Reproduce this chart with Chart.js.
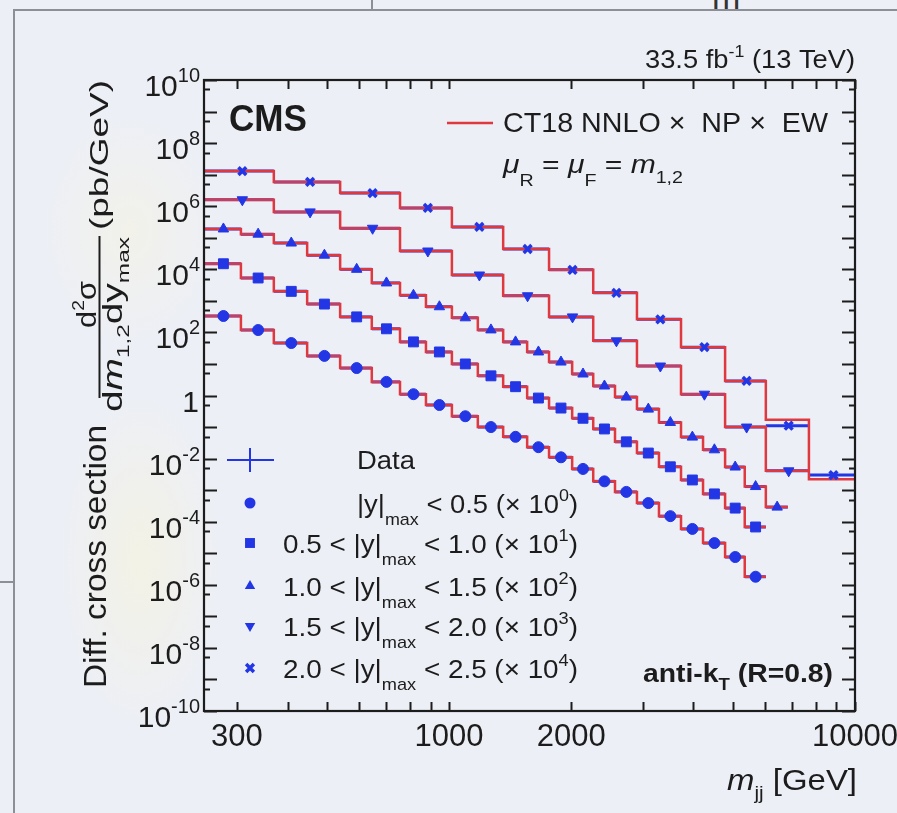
<!DOCTYPE html>
<html>
<head>
<meta charset="utf-8">
<script src="https://cdn.jsdelivr.net/npm/chart.js@4.4.1/dist/chart.umd.min.js"></script>
<style>
  html, body { margin: 0; padding: 0; }
  body {
    width: 897px; height: 813px; overflow: hidden; position: relative;
    background:
      radial-gradient(ellipse 110px 230px at 140px 560px, rgba(248,244,218,0.6), rgba(248,244,218,0) 75%),
      radial-gradient(ellipse 120px 160px at 130px 230px, rgba(248,244,222,0.5), rgba(248,244,222,0) 75%),
      #eceff6;
    font-family: "Liberation Sans", Arial, Helvetica, sans-serif;
  }
  .rule { position: absolute; background: #8c8f96; }
  #cut { position: absolute; left: 712px; top: -20px; font-size: 34px; line-height: 34px; color: #333; }
  #wrap { position: absolute; left: 0; top: 0; width: 897px; height: 813px; }
</style>
</head>
<body>
<div id="cut">m</div>
<div class="rule" style="left:13px; top:9px; width:884px; height:2px"></div>
<div class="rule" style="left:13px; top:9px; width:2px; height:804px"></div>
<div class="rule" style="left:371px; top:0; width:2px; height:10px"></div>
<div class="rule" style="left:0; top:581px; width:14px; height:2px"></div>
<div id="wrap"><canvas id="xsec"></canvas></div>
<script>
// m_1,2 bin edges (GeV): fine binning for |y|max < 1.5, merged bins above
const edgesFine = [249, 307, 370, 447, 539, 645, 757, 877, 1016, 1177, 1359, 1557, 1763,
  2010, 2265, 2563, 2903, 3289, 3727, 4223, 4786, 5350, 6030, 6830];
const edgesWide = [249, 370, 539, 757, 1016, 1359, 1763, 2265, 2903, 3727, 4786, 6030, 7700, 10000];

// measured cross sections (pb/GeV), already multiplied by the plotting factor
const xsY0 = [331, 119, 46, 18, 7.4, 2.7, 1.1, 0.50, 0.22, 0.10, 0.049, 0.023, 0.011,
  0.0047, 0.0019, 8.8e-4, 3.9e-4, 1.5e-4, 5.9e-5, 2.1e-5, 7.6e-6, 1.8e-6];
const xsY1 = [1.5e4, 5.3e3, 2.0e3, 790, 310, 130, 50, 24, 10, 4.2, 1.9, 0.83, 0.40,
  0.19, 0.087, 0.034, 0.015, 0.0055, 0.0021, 7.6e-4, 2.7e-4, 6.8e-5];
const xsY2 = [1.9e5, 1.3e5, 6.8e4, 2.8e4, 1.0e4, 3.7e3, 1.5e3, 650, 290, 120, 50, 24,
  11.5, 4.8, 2.0, 0.89, 0.37, 0.14, 0.048, 0.019, 0.0054, 0.0013, 2.9e-4];
const xsY3 = [1.6e6, 6.6e5, 2.0e5, 3.8e4, 6.6e3, 1450, 310, 54, 8.6, 1.1, 0.10, 0.0041];
const xsY4 = [1.3e7, 5.9e6, 2.6e6, 8.8e5, 2.2e5, 4.4e4, 9.6e3, 1.8e3, 260, 34, 2.9, 0.11, 0.0030];

// CT18 NNLO x NP x EW prediction (same scale factors)
const thyY0 = xsY0;
const thyY1 = xsY1;
const thyY2 = xsY2;
const thyY3 = xsY3;
const thyY4 = [1.3e7, 5.9e6, 2.6e6, 8.8e5, 2.2e5, 4.4e4, 9.6e3, 1.8e3, 260, 34, 2.9, 0.17, 0.0022];

const xTickLabels = [300, 1000, 2000, 10000];
const xMinorTicks = [300, 400, 500, 600, 700, 800, 900, 1000, 2000, 3000, 4000, 5000,
  6000, 7000, 8000, 9000, 10000];
const yLabelExps = [10, 8, 6, 4, 2, 0, -2, -4, -6, -8, -10];

const rapLabels = [
  ['', '0.5', '0'],
  ['0.5 < ', '1.0', '1'],
  ['1.0 < ', '1.5', '2'],
  ['1.5 < ', '2.0', '3'],
  ['2.0 < ', '2.5', '4'],
];

const RED = '#e0383f';
const BLUE = '#2236e6';
const INK = '#1c1c1c';
const FAM = '"Liberation Sans", Arial, Helvetica, sans-serif';
const f = (px, style) => (style ? style + ' ' : '') + px + 'px ' + FAM;

const series = [
  { xs: xsY0, thy: thyY0, edges: edgesFine, style: 'circle', r: 5.5 },
  { xs: xsY1, thy: thyY1, edges: edgesFine, style: 'rect', r: 7 },
  { xs: xsY2, thy: thyY2, edges: edgesFine, style: 'triangle', r: 6 },
  { xs: xsY3, thy: thyY3, edges: edgesWide, style: 'triangle', r: 6, rot: 180 },
  { xs: xsY4, thy: thyY4, edges: edgesWide, style: 'crossRot', r: 5.5 },
];

const datasets = [];
series.forEach(s => {
  const n = s.thy.length;
  // histogram: one point per lower edge, plus the closing upper edge
  datasets.push({
    data: s.edges.slice(0, n + 1).map((e, i) => ({ x: e, y: s.thy[Math.min(i, n - 1)] })),
    stepped: 'before',
    borderColor: RED,
    borderWidth: 2.5,
    pointRadius: 0,
    order: 2,
  });
  datasets.push({
    data: s.xs.map((v, i) => ({ x: (s.edges[i] + s.edges[i + 1]) / 2, y: v })),
    edges: s.edges,
    showLine: false,
    pointStyle: s.style,
    pointRadius: s.r,
    pointRotation: s.rot || 0,
    pointBackgroundColor: BLUE,
    pointBorderColor: BLUE,
    pointBorderWidth: s.style === 'crossRot' ? 3.5 : 1,
    order: 1,
  });
});

// text made of runs (sub/superscripts), optionally rotated and stretched to a length
function runs(ctx, parts, x, y, o) {
  o = o || {};
  let w = 0;
  parts.forEach(p => { ctx.font = p.f; p.w = ctx.measureText(p.t).width; w += p.w; });
  const s = o.fit ? o.fit / w : 1;
  ctx.save();
  ctx.translate(x, y);
  if (o.rot) ctx.rotate(o.rot);
  ctx.scale(s, 1);
  let cx = o.align === 'right' ? -w : o.align === 'center' ? -w / 2 : 0;
  ctx.fillStyle = o.color || INK;
  ctx.textAlign = 'left';
  ctx.textBaseline = 'alphabetic';
  parts.forEach(p => { ctx.font = p.f; ctx.fillText(p.t, cx, p.dy || 0); cx += p.w; });
  ctx.restore();
}

function marker(ctx, style, x, y, r, rot) {
  ctx.save();
  ctx.fillStyle = BLUE;
  ctx.strokeStyle = BLUE;
  ctx.beginPath();
  if (style === 'circle') {
    ctx.arc(x, y, r, 0, Math.PI * 2);
    ctx.fill();
  } else if (style === 'rect') {
    const h = r * Math.SQRT1_2;
    ctx.fillRect(x - h, y - h, 2 * h, 2 * h);
  } else if (style === 'triangle') {
    const d = rot ? -1 : 1;
    ctx.moveTo(x, y - d * r);
    ctx.lineTo(x + r * 0.866, y + d * r * 0.5);
    ctx.lineTo(x - r * 0.866, y + d * r * 0.5);
    ctx.closePath();
    ctx.fill();
  } else {
    const h = r * Math.SQRT1_2;
    ctx.lineWidth = 3.5;
    ctx.moveTo(x - h, y - h); ctx.lineTo(x + h, y + h);
    ctx.moveTo(x - h, y + h); ctx.lineTo(x + h, y - h);
    ctx.stroke();
  }
  ctx.restore();
}

// horizontal bin-width bars of the data points, under the prediction
const xErrBars = {
  id: 'xErrBars',
  beforeDatasetsDraw(chart) {
    const { ctx, chartArea: a, scales: { x, y } } = chart;
    ctx.save();
    ctx.beginPath();
    ctx.rect(a.left, a.top, a.right - a.left, a.bottom - a.top);
    ctx.clip();
    ctx.strokeStyle = BLUE;
    ctx.lineWidth = 3;
    chart.data.datasets.forEach(ds => {
      if (!ds.edges) return;
      ds.data.forEach((p, i) => {
        const py = y.getPixelForValue(p.y);
        ctx.beginPath();
        ctx.moveTo(x.getPixelForValue(ds.edges[i]), py);
        ctx.lineTo(x.getPixelForValue(ds.edges[i + 1]), py);
        ctx.stroke();
      });
    });
    ctx.restore();
  },
};

// ROOT style frame, inward ticks, labels and annotations
const frame = {
  id: 'frame',
  afterDraw(chart) {
    const { ctx, chartArea: a, scales: { x, y } } = chart;
    ctx.save();
    ctx.strokeStyle = INK;
    ctx.lineWidth = 2.2;
    ctx.strokeRect(a.left, a.top, a.right - a.left, a.bottom - a.top);

    ctx.lineWidth = 2;
    ctx.beginPath();
    for (let n = -10; n <= 10; n++) {
      const py = Math.round(y.getPixelForValue(Math.pow(10, n))) + 0.5;
      ctx.moveTo(a.left, py); ctx.lineTo(a.left + 13, py);
      ctx.moveTo(a.right, py); ctx.lineTo(a.right - 13, py);
      if (n < 10) {
        const pm = Math.round(y.getPixelForValue(5 * Math.pow(10, n))) + 0.5;
        ctx.moveTo(a.left, pm); ctx.lineTo(a.left + 6, pm);
        ctx.moveTo(a.right, pm); ctx.lineTo(a.right - 6, pm);
      }
    }
    xMinorTicks.forEach(v => {
      const px = Math.round(x.getPixelForValue(v)) + 0.5;
      ctx.moveTo(px, a.bottom); ctx.lineTo(px, a.bottom - 9);
      ctx.moveTo(px, a.top); ctx.lineTo(px, a.top + 9);
    });
    ctx.stroke();

    // axis labels
    yLabelExps.forEach(n => {
      const base = y.getPixelForValue(Math.pow(10, n)) + 16;
      if (n === 0) {
        runs(ctx, [{ t: '1', f: f(30) }], 199, base, { align: 'right' });
      } else {
        runs(ctx, [{ t: '10', f: f(30) }, { t: String(n), f: f(20), dy: -14 }], 200, base, { align: 'right' });
      }
    });
    xTickLabels.forEach(v => {
      runs(ctx, [{ t: String(v), f: f(31) }], x.getPixelForValue(v), 746, { align: 'center' });
    });

    runs(ctx, [{ t: 'm', f: f(30, 'italic') }, { t: 'jj', f: f(19), dy: 9 }, { t: ' [GeV]', f: f(30) }],
      727, 790, { fit: 130 });

    const up = -Math.PI / 2;
    runs(ctx, [{ t: 'Diff. cross section', f: f(31) }], 106, 688, { rot: up, fit: 263 });
    runs(ctx, [{ t: 'd', f: f(27) }, { t: '2', f: f(17), dy: -12 }, { t: 'σ', f: f(27) }],
      96, 328, { rot: up, fit: 47 });
    runs(ctx, [{ t: 'd', f: f(27) }, { t: 'm', f: f(27, 'italic') }, { t: '1,2', f: f(17), dy: 7 },
      { t: 'dy', f: f(27) }, { t: 'max', f: f(17), dy: 7 }], 122, 412, { rot: up, fit: 175 });
    runs(ctx, [{ t: '(pb/GeV)', f: f(25) }], 108, 230, { rot: up, fit: 150 });
    ctx.strokeStyle = INK;
    ctx.lineWidth = 2;
    ctx.beginPath();
    ctx.moveTo(99.5, 398); ctx.lineTo(99.5, 236);
    ctx.stroke();

    runs(ctx, [{ t: '33.5 fb', f: f(26) }, { t: '-1', f: f(17), dy: -11 }, { t: ' (13 TeV)', f: f(26) }],
      645, 68, { fit: 210 });
    runs(ctx, [{ t: 'CMS', f: f(36, 'bold') }], 229, 131, { fit: 78 });
    runs(ctx, [{ t: 'anti-k', f: f(26, 'bold') }, { t: 'T', f: f(17, 'bold'), dy: 8 },
      { t: ' (R=0.8)', f: f(26, 'bold') }], 643, 682, { fit: 190 });

    // prediction legend
    ctx.strokeStyle = RED;
    ctx.lineWidth = 2.5;
    ctx.beginPath();
    ctx.moveTo(447, 123); ctx.lineTo(493, 123);
    ctx.stroke();
    runs(ctx, [{ t: 'CT18 NNLO \u00d7  NP \u00d7  EW', f: f(28) }], 503, 132, { fit: 325 });
    runs(ctx, [
      { t: '\u03bc', f: f(26, 'italic') }, { t: 'R', f: f(17), dy: 13 },
      { t: ' = ', f: f(26) },
      { t: '\u03bc', f: f(26, 'italic') }, { t: 'F', f: f(17), dy: 13 },
      { t: ' = ', f: f(26) },
      { t: 'm', f: f(26, 'italic') }, { t: '1,2', f: f(17), dy: 10 },
    ], 503, 173, { fit: 180 });

    // data legend
    ctx.strokeStyle = BLUE;
    ctx.lineWidth = 2;
    ctx.beginPath();
    ctx.moveTo(227, 460); ctx.lineTo(274, 460);
    ctx.moveTo(250, 448); ctx.lineTo(250, 472);
    ctx.stroke();
    runs(ctx, [{ t: 'Data', f: f(26) }], 357, 469, { fit: 58 });

    const rowY = [503, 543, 586, 626, 668];
    rapLabels.forEach((lab, i) => {
      const s = series[i];
      marker(ctx, s.style, 250, rowY[i], s.r, s.rot);
      const start = lab[0] ? 283 : 357;
      runs(ctx, [
        { t: lab[0] + '|y|', f: f(26) },
        { t: 'max', f: f(17), dy: 12 },
        { t: ' < ' + lab[1] + ' (\u00d7 10', f: f(26) },
        { t: lab[2], f: f(17), dy: -12 },
        { t: ')', f: f(26) },
      ], start, rowY[i] + 9.5, { fit: 578 - start });
    });
    ctx.restore();
  },
};

new Chart(document.getElementById('xsec'), {
  type: 'line',
  data: { datasets: datasets },
  options: {
    responsive: true,
    maintainAspectRatio: false,
    animation: false,
    layout: { padding: { left: 204, top: 80, right: 42, bottom: 102 } },
    plugins: {
      legend: { display: false },
      tooltip: { enabled: false },
    },
    scales: {
      x: { type: 'logarithmic', min: 249, max: 10000, display: false },
      y: { type: 'logarithmic', min: 1e-10, max: 1e10, display: false },
    },
  },
  plugins: [xErrBars, frame],
});
</script>
</body>
</html>
